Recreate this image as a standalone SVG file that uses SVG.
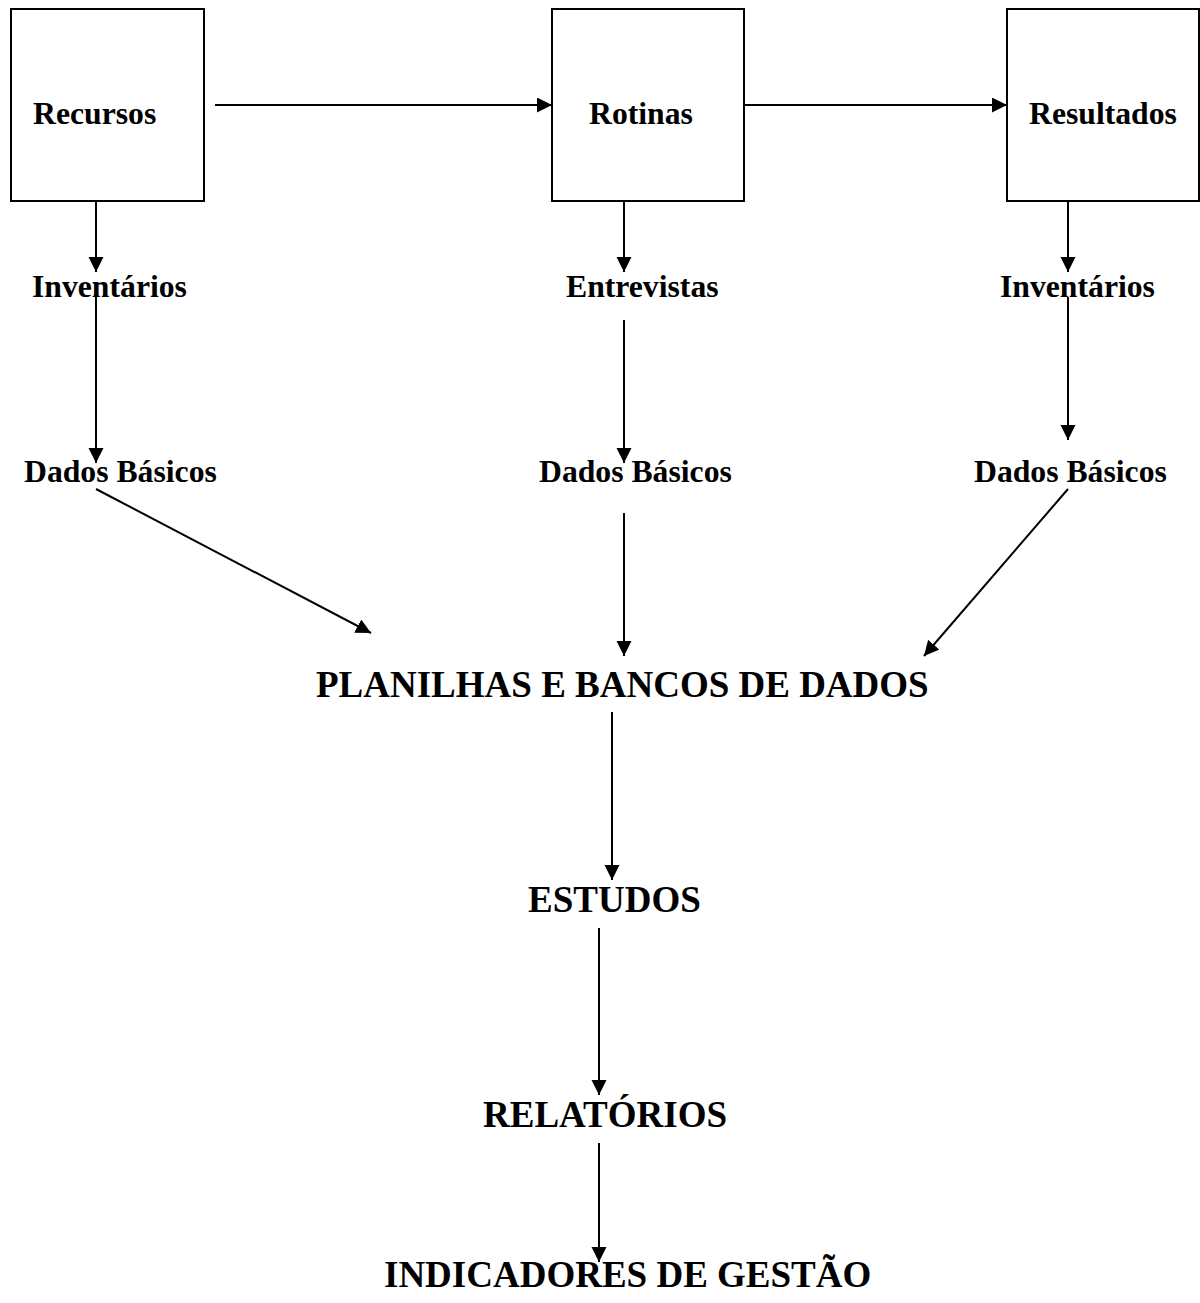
<svg xmlns="http://www.w3.org/2000/svg" width="1200" height="1303" viewBox="0 0 1200 1303">
<style>
.box{fill:#fff;stroke:#000;stroke-width:2}
.t{font-family:"Liberation Serif","Times New Roman",serif;font-weight:bold;fill:#000}
.s{font-size:31.7px}
.b{font-size:37px}
.c{stroke:#000;stroke-width:2;fill:none;marker-end:url(#ah)}
</style>
<defs>
<marker id="ah" markerUnits="userSpaceOnUse" markerWidth="16" markerHeight="16" refX="15" refY="7.5" orient="auto">
<path d="M0,0 L15,7.5 L0,15 z" fill="#000"/>
</marker>
</defs>
<rect width="1200" height="1303" fill="#fff"/>
<g id="recursos"><rect class="box" x="11" y="9" width="193" height="192"/><text class="t s" x="33" y="124">Recursos</text></g>
<g id="rotinas"><rect class="box" x="552" y="9" width="192" height="192"/><text class="t s" x="589" y="124">Rotinas</text></g>
<g id="resultados"><rect class="box" x="1007" y="9" width="192" height="192"/><text class="t s" x="1029" y="124">Resultados</text></g>
<g id="inventarios1"><text class="t s" x="32" y="297">Inventários</text></g>
<g id="entrevistas"><text class="t s" x="566" y="297">Entrevistas</text></g>
<g id="inventarios2"><text class="t s" x="1000" y="297">Inventários</text></g>
<g id="dados1"><text class="t s" x="24" y="482">Dados Básicos</text></g>
<g id="dados2"><text class="t s" x="539" y="482">Dados Básicos</text></g>
<g id="dados3"><text class="t s" x="974" y="482">Dados Básicos</text></g>
<g id="planilhas"><text class="t b" x="316" y="697">PLANILHAS E BANCOS DE DADOS</text></g>
<g id="estudos"><text class="t b" x="528" y="912">ESTUDOS</text></g>
<g id="relatorios"><text class="t b" x="483" y="1127">RELATÓRIOS</text></g>
<g id="indicadores"><text class="t b" x="384" y="1287">INDICADORES DE GESTÃO</text></g>
<g id="connectors">
<line class="c" x1="215" y1="105" x2="552" y2="105"/>
<line class="c" x1="744" y1="105" x2="1007" y2="105"/>
<line class="c" x1="96" y1="201" x2="96" y2="272"/>
<line class="c" x1="624" y1="201" x2="624" y2="272"/>
<line class="c" x1="1068" y1="201" x2="1068" y2="272"/>
<line class="c" x1="96" y1="297" x2="96" y2="463"/>
<line class="c" x1="624" y1="320" x2="624" y2="463"/>
<line class="c" x1="1068" y1="297" x2="1068" y2="440"/>
<line class="c" x1="96" y1="489" x2="371" y2="633"/>
<line class="c" x1="624" y1="513" x2="624" y2="656"/>
<line class="c" x1="1068" y1="489" x2="924" y2="656"/>
<line class="c" x1="612" y1="712" x2="612" y2="880"/>
<line class="c" x1="599" y1="928" x2="599" y2="1095"/>
<line class="c" x1="599" y1="1143" x2="599" y2="1262"/>
</g>
</svg>
